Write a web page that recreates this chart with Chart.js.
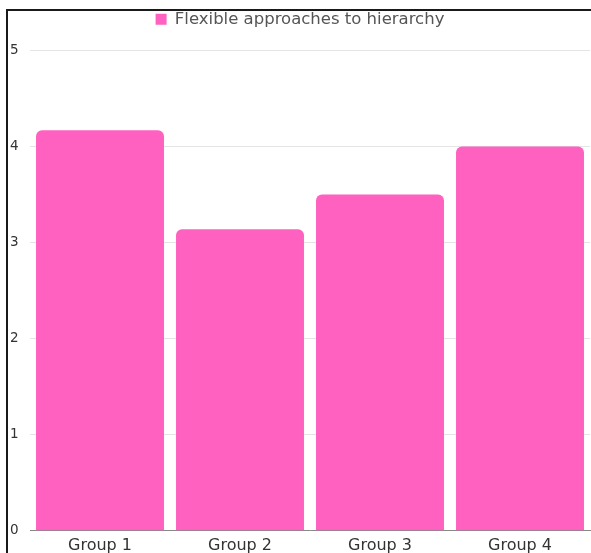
<!DOCTYPE html>
<html>
<head>
<meta charset="utf-8">
<script src="https://cdn.jsdelivr.net/npm/chart.js@4"></script>
<style>
    html, body { margin: 0; padding: 0; background: #fff; }
    #wrap { position: relative; width: 591px; height: 553px; overflow: hidden; }
    #frame {
        position: absolute; left: 6px; top: 9px; right: -4px; bottom: -4px;
        border-left: 2px solid #1a1a1a; border-top: 2px solid #1a1a1a;
    }
    #chart { position: absolute; left: 0; top: 0; }
</style>
</head>
<body>
<div id="wrap">
    <div id="frame"></div>
    <canvas id="chart" width="591" height="553"></canvas>
</div>
<script>
// ==================== DATA ====================
const categories = ['Group 1', 'Group 2', 'Group 3', 'Group 4'];
const seriesName = 'Flexible approaches to hierarchy';
const seriesValues = [4.17, 3.14, 3.5, 4.0];
const yTicks = [0, 1, 2, 3, 4, 5];

const FONT = "'DejaVu Sans', sans-serif";

// extra room under the legend
const legendSpacer = {
    id: 'legendSpacer',
    beforeInit(chart) {
        const origFit = chart.legend.fit;
        chart.legend.fit = function () {
            origFit.call(this);
            this.height += 13;
        };
    }
};

// ==================== CHART ====================
const ctx = document.getElementById('chart').getContext('2d');
new Chart(ctx, {
    type: 'bar',
    data: {
        labels: categories,
        datasets: [{
            label: seriesName,
            data: seriesValues,
            backgroundColor: '#ff61c0',
            borderWidth: 0,
            borderRadius: { topLeft: 6, topRight: 6 },
            borderSkipped: 'bottom',
            barPercentage: 0.914,
            categoryPercentage: 1.0
        }]
    },
    plugins: [legendSpacer],
    options: {
        responsive: false,
        animation: false,
        layout: { padding: { left: 10, right: 1, top: 1, bottom: -7 } },
        plugins: {
            legend: {
                display: true,
                position: 'top',
                labels: {
                    boxWidth: 11,
                    boxHeight: 11,
                    padding: 10,
                    color: '#555',
                    font: { family: FONT, size: 16.5 }
                }
            },
            tooltip: { enabled: false }
        },
        scales: {
            x: {
                grid: { display: false, drawTicks: false },
                border: { display: true, color: '#888', width: 1 },
                ticks: {
                    color: '#333',
                    padding: 5,
                    font: { family: FONT, size: 16 }
                },
                afterFit: s => { s.paddingLeft = 0; s.paddingRight = 0; }
            },
            y: {
                min: yTicks[0],
                max: yTicks[yTicks.length - 1],
                afterBuildTicks: axis => { axis.ticks = yTicks.map(v => ({ value: v })); },
                grid: { color: '#e4e4e4', drawTicks: false },
                border: { display: false },
                ticks: {
                    color: '#333',
                    crossAlign: 'far',
                    padding: 10,
                    font: { family: FONT, size: 13.5 }
                },
                afterFit: s => { s.width = 20; }
            }
        }
    }
});
</script>
</body>
</html>
